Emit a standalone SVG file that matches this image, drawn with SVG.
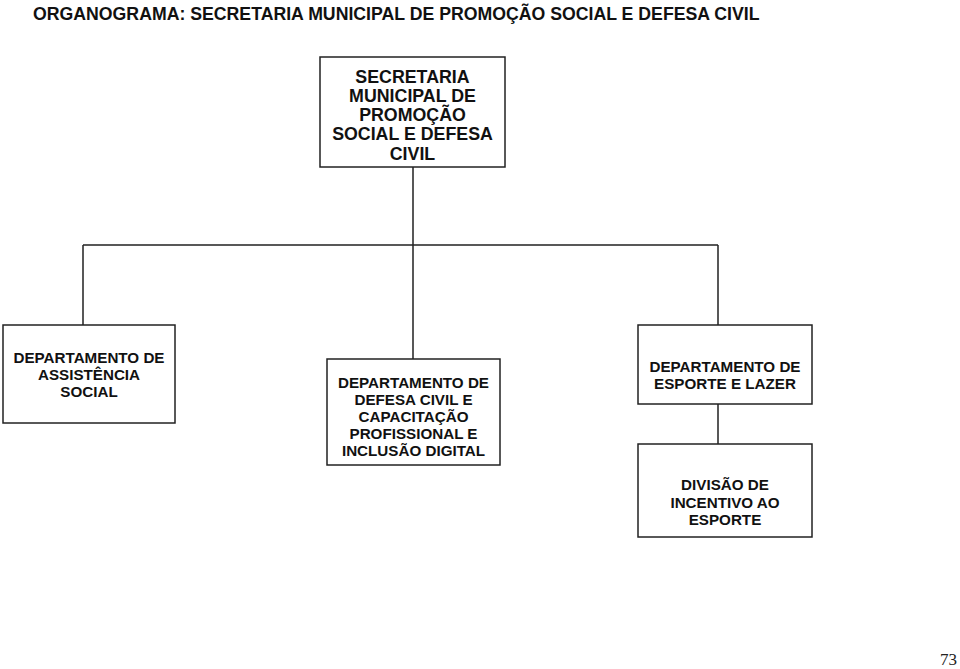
<svg xmlns="http://www.w3.org/2000/svg" width="960" height="669" viewBox="0 0 960 669">
<style>
.box{fill:#fff;stroke:#222;stroke-width:1.5}
.t{font-family:"Liberation Sans",Arial,sans-serif;font-weight:bold;font-size:15.2px;fill:#111;text-anchor:middle}
.big{font-size:17.8px}
.conn{fill:none;stroke:#222;stroke-width:1.5}
</style>
<rect width="960" height="669" fill="#fff"/>
<text x="33" y="19.5" font-family="Liberation Sans, Arial, sans-serif" font-weight="bold" font-size="17.7" fill="#111">ORGANOGRAMA: SECRETARIA MUNICIPAL DE PROMOÇÃO SOCIAL E DEFESA CIVIL</text>
<g id="connectors">
<path class="conn" d="M413 167 V245 M83 245 H718 M83 245 V325 M413 245 V359 M718 245 V325 M718 404 V444"/>
</g>
<g id="secretaria">
<rect class="box" x="320" y="57" width="185" height="110"/>
<text class="t big" x="412.5" y="82.7">SECRETARIA</text>
<text class="t big" x="412.5" y="101.7">MUNICIPAL DE</text>
<text class="t big" x="412.5" y="120.7">PROMOÇÃO</text>
<text class="t big" x="412.5" y="140">SOCIAL E DEFESA</text>
<text class="t big" x="412.5" y="160">CIVIL</text>
</g>
<g id="assistencia">
<rect class="box" x="3" y="325" width="172" height="98"/>
<text class="t" x="89" y="362.5">DEPARTAMENTO DE</text>
<text class="t" x="89" y="379.5">ASSISTÊNCIA</text>
<text class="t" x="89" y="396.5">SOCIAL</text>
</g>
<g id="defesa">
<rect class="box" x="327" y="359" width="173" height="106"/>
<text class="t" x="413.5" y="387.5">DEPARTAMENTO DE</text>
<text class="t" x="413.5" y="404.5">DEFESA CIVIL E</text>
<text class="t" x="413.5" y="422">CAPACITAÇÃO</text>
<text class="t" x="413.5" y="439">PROFISSIONAL E</text>
<text class="t" x="413.5" y="455.5">INCLUSÃO DIGITAL</text>
</g>
<g id="esporte">
<rect class="box" x="638" y="325" width="174" height="79"/>
<text class="t" x="725" y="372">DEPARTAMENTO DE</text>
<text class="t" x="725" y="388.5">ESPORTE E LAZER</text>
</g>
<g id="divisao">
<rect class="box" x="638" y="444" width="174" height="93"/>
<text class="t" x="725" y="490">DIVISÃO DE</text>
<text class="t" x="725" y="507.5">INCENTIVO AO</text>
<text class="t" x="725" y="524.5">ESPORTE</text>
</g>
<text x="957" y="665" text-anchor="end" font-family="Liberation Serif, Times New Roman, serif" font-size="17" fill="#222">73</text>
</svg>
